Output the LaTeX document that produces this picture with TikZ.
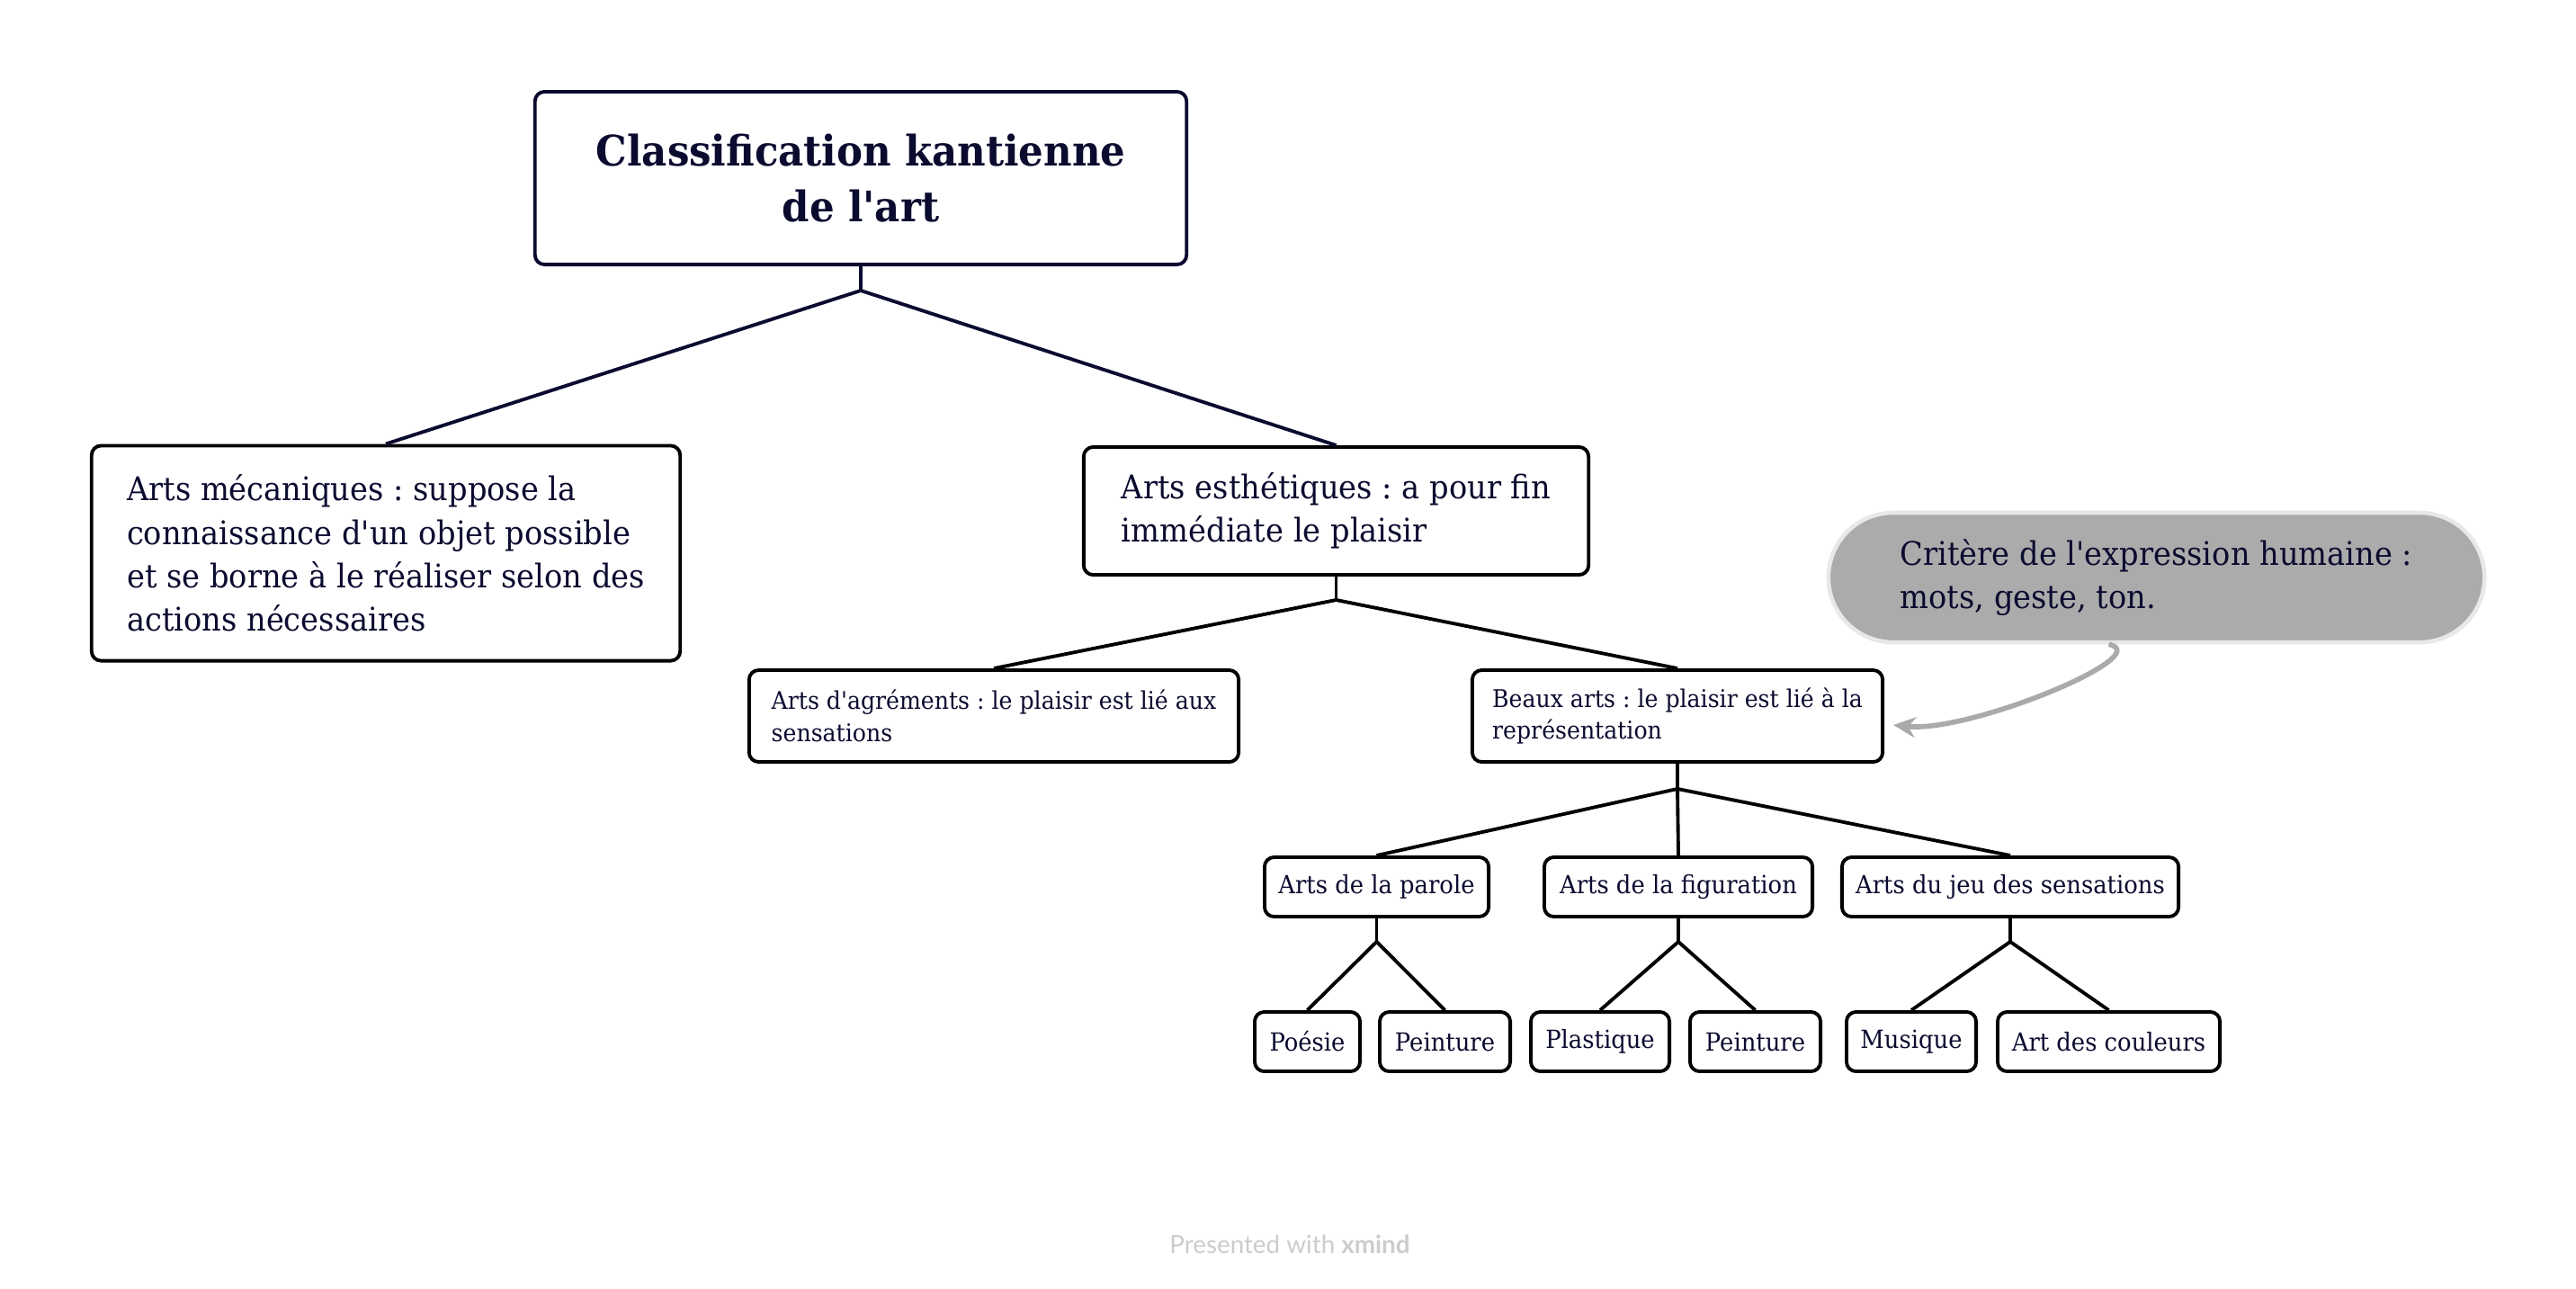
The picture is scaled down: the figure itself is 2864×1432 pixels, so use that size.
\documentclass[tikz,border=0pt]{standalone}
\usepackage{fontspec}
\setmainfont{DejaVu Serif}[FakeStretch=0.93,Ligatures=TeXOff]
\newfontfamily\xmfont{Lato}[Ligatures=TeXOff]
\usetikzlibrary{arrows.meta,calc}
\definecolor{ink}{HTML}{0B0B30}
\definecolor{calfill}{HTML}{ABABAB}
\definecolor{calline}{HTML}{E8E8E8}
\definecolor{arrowgray}{HTML}{AAAAAA}
\definecolor{marktxt}{HTML}{CCCCCC}
\frenchspacing
\begin{document}
\begin{tikzpicture}[x=0.01cm,y=-0.01cm,
  box/.style={draw=black, line width=1.1pt, rounded corners=3pt, fill=white, text=ink, inner sep=0pt, align=left},
  rootbox/.style={box, draw=ink, align=center, font=\bfseries\fontsize{13.3}{17.7}\selectfont},
  bigtxt/.style={font=\fontsize{10.3}{13.7}\selectfont},
  smalltxt/.style={font=\fontsize{7.7}{10.1}\selectfont},
  midtxt/.style={font=\fontsize{7.9}{10}\selectfont},
  link/.style={line width=1.1pt, draw=black},
  rootlink/.style={line width=1.1pt, draw=ink},
  callout/.style={draw=calline, line width=1.3pt, fill=calfill, rounded corners=0.72cm, text=ink, align=left, inner sep=0pt},
  notearrow/.style={draw=arrowgray, line width=1.6pt, -{Stealth[length=7pt,width=6.5pt]}},
  wmark/.style={text=marktxt, font=\xmfont\fontsize{7.9}{9}\selectfont}
]
\path[fill=white] (0,0) rectangle (2864,1432);
\useasboundingbox (0,0) rectangle (2864,1432);

% nodes
\node[rootbox, minimum width=7.24cm, minimum height=1.92cm] (root) at (957,198) {Classification kantienne\\de l'art};
\node[box, bigtxt, minimum width=6.54cm, minimum height=2.39cm] (mec) at (429,615) {Arts mécaniques : suppose la\\connaissance d'un objet possible\\et se borne à le réaliser selon des\\actions nécessaires};
\node[box, bigtxt, minimum width=5.61cm, minimum height=1.42cm] (est) at (1485.5,568) {Arts esthétiques : a pour fin\\immédiate le plaisir};
\node[box, smalltxt, minimum width=5.44cm, minimum height=1.02cm] (agr) at (1105,796) {Arts d'agréments : le plaisir est lié aux\\sensations};
\node[box, smalltxt, minimum width=4.56cm, minimum height=1.02cm] (beaux) at (1865,796) {Beaux arts : le plaisir est lié à la\\représentation};

\node[box, midtxt, minimum width=2.49cm, minimum height=0.66cm] (parole) at (1530.5,986) {Arts de la parole};
\node[box, midtxt, minimum width=2.98cm, minimum height=0.66cm] (fig) at (1866,986) {Arts de la figuration};
\node[box, midtxt, minimum width=3.74cm, minimum height=0.66cm] (jeu) at (2235,986) {Arts du jeu des sensations};

\node[box, midtxt, minimum width=1.17cm, minimum height=0.66cm] (poesie) at (1453.5,1158) {Poésie};
\node[box, midtxt, minimum width=1.45cm, minimum height=0.66cm] (peint1) at (1606.5,1158) {Peinture};
\node[box, midtxt, minimum width=1.54cm, minimum height=0.66cm] (plast) at (1779,1158) {Plastique};
\node[box, midtxt, minimum width=1.45cm, minimum height=0.66cm] (peint2) at (1951.5,1158) {Peinture};
\node[box, midtxt, minimum width=1.44cm, minimum height=0.66cm] (musique) at (2125,1158) {Musique};
\node[box, midtxt, minimum width=2.47cm, minimum height=0.66cm] (couleurs) at (2344.5,1158) {Art des couleurs};

\node[callout, bigtxt, minimum width=7.29cm, minimum height=1.44cm] (crit) at (2397.5,642) {Critère de l'expression humaine :\\mots, geste, ton.};

\node[wmark] (wm) at (1434,1383) {Presented with \textbf{xmind}};

% tree connectors
\draw[rootlink] (root.south) -- ++(0,27) coordinate (j0);
\draw[rootlink] (j0) -- (mec.north);
\draw[rootlink] (j0) -- (est.north);

\draw[link] (est.south) -- ++(0,26) coordinate (j1);
\draw[link] (j1) -- (agr.north);
\draw[link] (j1) -- (beaux.north);

\draw[link] (beaux.south) -- ++(0,28) coordinate (j2);
\draw[link] (j2) -- (parole.north);
\draw[link] (j2) -- (fig.north);
\draw[link] (j2) -- (jeu.north);

\draw[link] (parole.south) -- ++(0,26) coordinate (j3);
\draw[link] (j3) -- (poesie.north);
\draw[link] (j3) -- (peint1.north);

\draw[link] (fig.south) -- ++(0,26) coordinate (j4);
\draw[link] (j4) -- (plast.north);
\draw[link] (j4) -- (peint2.north);

\draw[link] (jeu.south) -- ++(0,26) coordinate (j5);
\draw[link] (j5) -- (musique.north);
\draw[link] (j5) -- (couleurs.north);

% note arrow
\coordinate (cs) at ($(crit.south)+(-53,0)$);
\coordinate (ce) at ($(beaux.east)+(10,10)$);
\draw[notearrow] (cs) .. controls (2400,728) and (2190,815) .. (ce);
\end{tikzpicture}
\end{document}
